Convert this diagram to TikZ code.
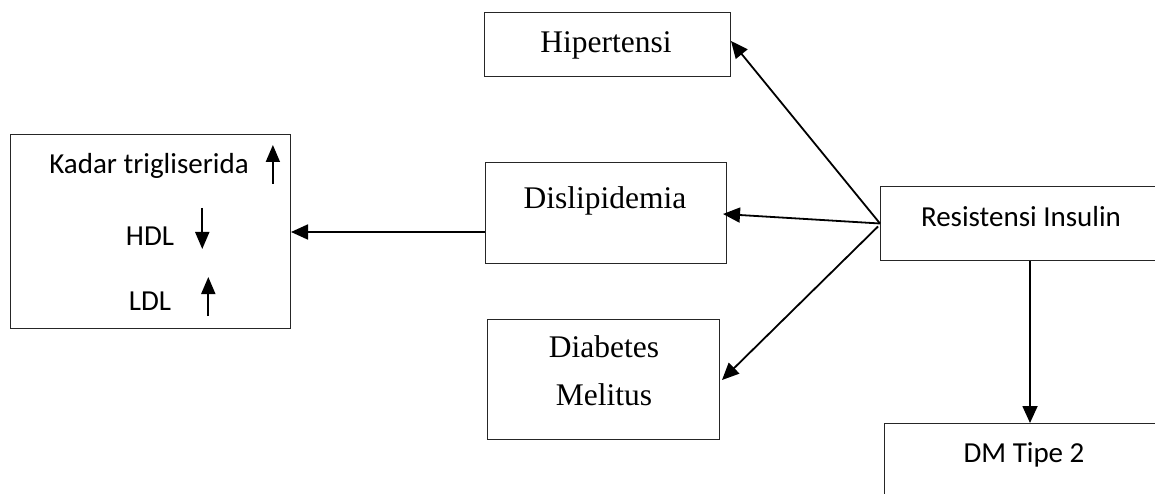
\documentclass[tikz,border=0pt]{standalone}
\usepackage{fontspec}
\setmainfont{Liberation Serif}
\newfontfamily\calibrifont{Carlito}
\usepackage{tikz}
\usetikzlibrary{
  arrows.meta,
  positioning,
  calc,
}

\begin{document}
\begin{tikzpicture}[
  x=1pt, y=-1pt,
  box/.style={
    draw=black!85,
    line width=1pt,
    fill=white,
    inner sep=0pt,
    anchor=north west,
  },
  serifwd/.style={
    font=\fontsize{31.5}{48}\selectfont,
    align=center,
    inner sep=0pt,
  },
  sanswd/.style={
    font=\calibrifont\fontsize{29}{34}\selectfont,
    align=center,
    inner sep=0pt,
  },
  arr/.style={
    -{Triangle[length=17pt, width=15pt]},
    line width=1.8pt,
    draw=black,
  },
  tick/.style={
    -{Triangle[length=17pt, width=14pt]},
    line width=1.8pt,
    draw=black,
  },
]

\clip (0,0) rectangle (1155,494);

% =============================================================================
% Boxes
% =============================================================================
\node[box, minimum width=280, minimum height=194] (lipid) at (10,134) {};
\node[box, minimum width=246, minimum height=64]  (hiper) at (484,12) {};
\node[box, minimum width=241, minimum height=101] (dys)   at (485,162) {};
\node[box, minimum width=232, minimum height=120] (dm)    at (487,319) {};
\node[box, minimum width=285, minimum height=74]  (res)   at (880,186) {};
\node[box, minimum width=285, minimum height=120] (tipe)  at (884,423) {};

% =============================================================================
% Texts
% =============================================================================
\node[serifwd] (hipertxt) at (606,45)  {Hipertensi};
\node[serifwd] (dystxt)   at (605,201) {Dislipidemia};
\node[serifwd] (dmtxt)    at (604,371) {Diabetes\\Melitus};
\node[sanswd]  (restxt)   at (1021,217) {Resistensi Insulin};
\node[sanswd]  (tipetxt)  at (1024,455) {DM Tipe 2};

\node[sanswd] (tg)  at (149,166) {Kadar trigliserida};
\node[sanswd] (hdl) at (150,236) {HDL};
\node[sanswd] (ldl) at (150,301) {LDL};

% lipid trend marks beside each label
\draw[tick] ($(tg.east)+(24,18)$)  -- ++(0,-39);
\draw[tick] ($(hdl.east)+(28,-28)$) -- ++(0,41);
\draw[tick] ($(ldl.east)+(37,15)$)  -- ++(0,-39);

% =============================================================================
% Connectors
% =============================================================================
\draw[arr] (res.west) -- (hiper.east |- 0,41);
\draw[arr] (res.west) -- (723,214);
\draw[arr] ($(res.west)+(-2,3)$) -- (722,380);
\draw[arr] (res.south -| 1030,0) -- (tipe.north -| 1030,0);
\draw[arr] (dys.west |- 0,232) -- (lipid.east |- 0,232);

\end{tikzpicture}
\end{document}
